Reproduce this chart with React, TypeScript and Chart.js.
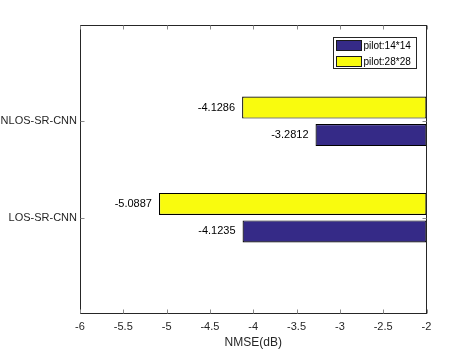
import React, { useEffect, useRef } from "react";
import { Chart, registerables } from "chart.js";

Chart.register(...registerables);

const categories = ["LOS-SR-CNN", "NLOS-SR-CNN"];
const seriesNames = ["pilot:14*14", "pilot:28*28"];
const pilot14 = [-4.1235, -3.2812];
const pilot28 = [-5.0887, -4.1286];
const xTicks = [-6, -5.5, -5, -4.5, -4, -3.5, -3, -2.5, -2];
const baseValue = -2;
const colors = ["#352A87", "#F9FB0E"];

const FONT = "'Liberation Sans', Arial, Helvetica, sans-serif";
const AXIS = "#262626";

const framePlugin = {
  id: "frame",
  afterDatasetsDraw(chart: any) {
    const ctx = chart.ctx;
    const { left, right, top, bottom } = chart.chartArea;
    const xs = chart.scales.x;
    const ys = chart.scales.y;
    ctx.save();
    // data labels
    ctx.font = `11px ${FONT}`;
    ctx.fillStyle = "#000";
    ctx.textAlign = "right";
    ctx.textBaseline = "middle";
    chart.data.datasets.forEach((ds: any, di: number) => {
      const meta = chart.getDatasetMeta(di);
      meta.data.forEach((el: any, i: number) => {
        const v = ds.raw[i];
        const px = xs.getPixelForValue(v);
        ctx.fillText(v.toFixed(4), px - 7, el.y);
      });
    });
    // box
    ctx.strokeStyle = AXIS;
    ctx.lineWidth = 1;
    const L = Math.round(left) + 0.5;
    const R = Math.round(right) - 0.5;
    const T = Math.round(top) + 0.5;
    const B = Math.round(bottom) - 0.5;
    ctx.strokeRect(L, T, R - L, B - T);
    // ticks
    ctx.strokeStyle = "#8a8a8a";
    ctx.beginPath();
    xTicks.forEach((t) => {
      const p = Math.round(xs.getPixelForValue(t)) + 0.5;
      ctx.moveTo(p, B);
      ctx.lineTo(p, B - 4);
      ctx.moveTo(p, T);
      ctx.lineTo(p, T + 4);
    });
    categories.forEach((_, i) => {
      const p = Math.round(ys.getPixelForValue(i + 1)) + 0.5;
      ctx.moveTo(L, p);
      ctx.lineTo(L + 4, p);
      ctx.moveTo(R, p);
      ctx.lineTo(R - 4, p);
    });
    ctx.stroke();
    // legend
    const lx = 333.5, ly = 37.5, lw = 83, lh = 31;
    ctx.fillStyle = "#fff";
    ctx.fillRect(lx, ly, lw, lh);
    ctx.strokeStyle = AXIS;
    ctx.strokeRect(lx, ly, lw, lh);
    seriesNames.forEach((name, i) => {
      const sy = ly + 3 + i * 16;
      ctx.fillStyle = colors[i];
      ctx.fillRect(lx + 3, sy, 25, 10);
      ctx.strokeStyle = "#1a1a1a";
      ctx.strokeRect(lx + 3, sy, 25, 10);
      ctx.fillStyle = "#000";
      ctx.font = `10px ${FONT}`;
      ctx.textAlign = "left";
      ctx.textBaseline = "middle";
      ctx.fillText(name, lx + 30, sy + 5.5);
    });
    ctx.restore();
  },
};

export default function App() {
  const ref = useRef<HTMLCanvasElement>(null);
  useEffect(() => {
    const mk = (vals: number[], color: string) => ({
      data: vals.map((v, i) => ({ y: i + 1, x: [baseValue, v] })),
      raw: vals,
      backgroundColor: color,
      borderColor: "#000",
      borderWidth: 1.2,
      borderSkipped: false,
      categoryPercentage: 2 / 3.5,
      barPercentage: 0.8,
    });
    const chart = new Chart(ref.current!, {
      type: "bar",
      data: {
        datasets: [mk(pilot28, colors[1]), mk(pilot14, colors[0])] as any,
      },
      options: {
        indexAxis: "y",
        animation: false,
        responsive: false,
        layout: { padding: { top: 25, right: 44.5, left: 0, bottom: 0 } },
        plugins: { legend: { display: false }, tooltip: { enabled: false } },
        scales: {
          x: {
            type: "linear",
            min: -6,
            max: -2,
            afterBuildTicks: (s: any) => {
              s.ticks = xTicks.map((v) => ({ value: v }));
            },
            afterFit: (s: any) => {
              s.height = 39;
            },
            grid: { display: false, drawTicks: false },
            border: { display: false },
            ticks: {
              padding: 6,
              color: AXIS,
              font: { family: FONT, size: 11 },
              maxRotation: 0,
              autoSkip: false,
              callback: (v: any) => String(v),
            },
            title: {
              display: true,
              text: "NMSE(dB)",
              color: AXIS,
              font: { family: FONT, size: 12 },
              padding: { top: 3, bottom: 3 },
            },
          },
          y: {
            type: "linear",
            min: 0,
            max: 3,
            offset: false,
            afterBuildTicks: (s: any) => {
              s.ticks = categories.map((_, i) => ({ value: i + 1 }));
            },
            afterFit: (s: any) => {
              s.width = 80;
            },
            grid: { display: false, drawTicks: false },
            border: { display: false },
            ticks: {
              padding: 3,
              color: AXIS,
              font: { family: FONT, size: 11 },
              autoSkip: false,
              callback: (v: any) => categories[Number(v) - 1] ?? "",
            },
          },
        },
      },
      plugins: [framePlugin],
    } as any);
    return () => chart.destroy();
  }, []);
  return (
    <div style={{ position: "fixed", left: 0, top: 0, width: 471, height: 353, background: "#fff" }}>
      <canvas ref={ref} width={471} height={353} />
    </div>
  );
}
